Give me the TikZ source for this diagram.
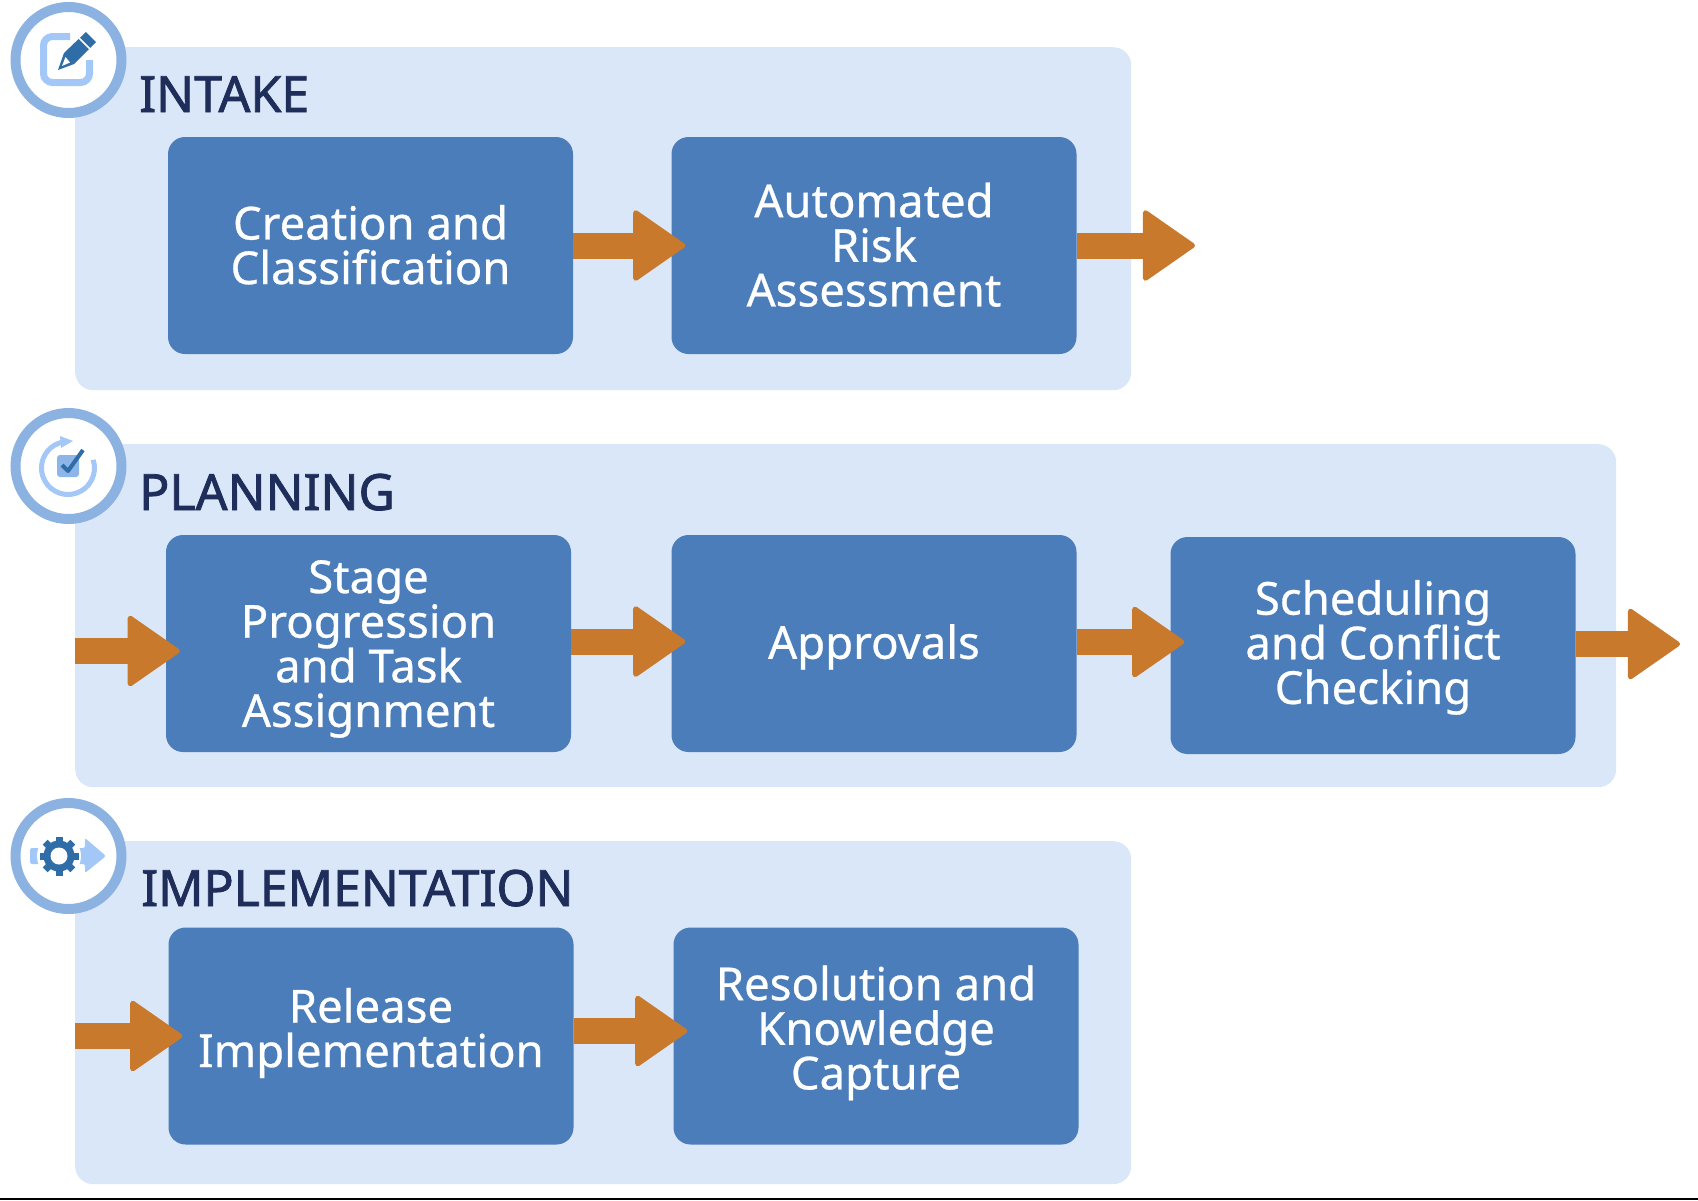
\documentclass[tikz,border=0pt]{standalone}
\usepackage{fontspec}
\setmainfont{Noto Sans}
\newfontfamily\stepfont[FakeBold=0.6]{Noto Sans}
\newfontfamily\phasefont[FakeBold=1.6]{Noto Sans}
\usepackage{tikz}
\usetikzlibrary{arrows.meta}
\usetikzlibrary{calc}
\definecolor{panelblue}{HTML}{DAE7F8}
\definecolor{boxblue}{HTML}{4A7DB9}
\definecolor{flow}{HTML}{C8792B}
\definecolor{titleblue}{HTML}{1F2D5B}
\definecolor{ringblue}{HTML}{8CB2E2}
\definecolor{iconlight}{HTML}{A3C8F7}
\definecolor{icondark}{HTML}{2F6DA8}
\newcommand{\stepsize}{\stepfont\fontsize{45.5}{44.6}\selectfont\setlength{\lineskiplimit}{-40pt}}

\begin{document}
\begin{tikzpicture}[x=1pt,y=-1pt,
        panel/.style={fill=panelblue,rounded corners=18pt,minimum height=343pt,inner sep=0pt,anchor=north west},
        stepbox/.style={fill=boxblue,rounded corners=17pt,minimum width=405pt,minimum height=217pt,inner sep=0pt,
            text=white,align=center,font=\stepsize},
        phase/.style={text=titleblue,font=\phasefont\fontsize{50}{50}\selectfont,anchor=base west,inner sep=0pt},
        badge/.style={circle,draw=ringblue,line width=10pt,fill=white,minimum size=106pt,inner sep=0pt},
        flowline/.style={draw=flow,line width=26pt,-{Triangle[length=54pt,width=74pt,round,line width=5pt]},shorten >=-14pt}]
    \useasboundingbox (0,0) rectangle (1698,1200);
    \fill[black] (0,1198) rectangle (1698,1200);

    \node[panel,minimum width=1056pt] (intakepanel) at (75,47) {};
    \node[panel,minimum width=1541pt] (planpanel) at (75,444) {};
    \node[panel,minimum width=1056pt] (implpanel) at (75,841) {};

    \node[badge] (intakebadge) at (68.5,60) {};
    \node[badge] (planbadge) at (68.5,466) {};
    \node[badge] (implbadge) at (68.5,856) {};

    \node[phase] (intake) at (139,112) {INTAKE};
    \node[phase] (planning) at (139,510) {PLANNING};
    \node[phase] (implementation) at (141,906) {IMPLEMENTATION};

    \node[stepbox,text depth=2pt] (create) at (370.5,245.5) {Creation and\\Classification};
    \node[stepbox,text depth=2pt] (risk) at (874,245.5) {Automated\\Risk\\Assessment};
    \node[stepbox,text depth=-4pt] (stage) at (368.5,643.5) {Stage\\Progression\\and Task\\Assignment};
    \node[stepbox,text depth=4pt] (approve) at (874,643.5) {Approvals};
    \node[stepbox,text depth=7pt] (schedule) at (1373,645.5) {Scheduling\\and Conflict\\Checking};
    \node[stepbox,text depth=17pt] (release) at (371,1036) {Release\\Implementation};
    \node[stepbox,text depth=17pt] (resolve) at (876,1036) {Resolution and\\Knowledge\\Capture};

    \coordinate (intakeout) at (1181,245.5);
    \coordinate (planin) at (75,651);
    \coordinate (planout) at (1666,644);
    \coordinate (implin) at (75,1036);

    \path[flowline] (create.east) -- (risk.west);
    \path[flowline] (risk.east) -- (intakeout);
    \path[flowline] (planin) -- ([yshift=-7.5pt]stage.west);
    \path[flowline] ([yshift=2pt]stage.east) -- ([yshift=2pt]approve.west);
    \path[flowline] ([yshift=1.5pt]approve.east) -- ([yshift=3.5pt]schedule.west);
    \path[flowline] ([yshift=1.5pt]schedule.east) -- (planout);
    \path[flowline] (implin) -- (release.west);
    \path[flowline] ([yshift=5pt]release.east) -- ([yshift=5pt]resolve.west);

    % pencil icon
    \draw[iconlight,line width=7pt,rounded corners=9pt] (70,36.5) -- (43.5,36.5) -- (43.5,82.5) -- (89.5,82.5) -- (89.5,60);
    \fill[icondark] (58,70) -- (64,53) -- (86,32) -- (96,42) -- (74,64) -- cycle;
    \fill[white] (62,66) -- (65.5,57) -- (70,62.5) -- cycle;
    \draw[white,line width=1.5pt] (78,37) -- (90,49);

    % cycle icon
    \draw[iconlight,line width=5pt] (68,468) ++(-18:26.5) arc[start angle=-18,end angle=257,radius=26.5];
    \fill[iconlight] (60,436) -- (73,441) -- (61,448) -- cycle;
    \fill[iconlight!75!boxblue,rounded corners=3pt] (57,455) rectangle (79,477);
    \draw[icondark,line width=4pt,line join=round] (62,465) -- (68,471) -- (83,450);

    % gear icon
    \fill[iconlight,rounded corners=2pt] (30,848) -- (85,848) -- (85,838) -- (106,856) -- (85,873) -- (85,864) -- (30,864) -- cycle;
    \fill[white] (59,856) circle (22);
    \foreach \a in {0,45,...,315}
        \fill[icondark,rotate around={\a:(59,856)}] (55.5,836.5) rectangle (62.5,846);
    \fill[icondark] (59,856) circle (15.5);
    \fill[white] (59,856) circle (8.5);
\end{tikzpicture}
\end{document}
